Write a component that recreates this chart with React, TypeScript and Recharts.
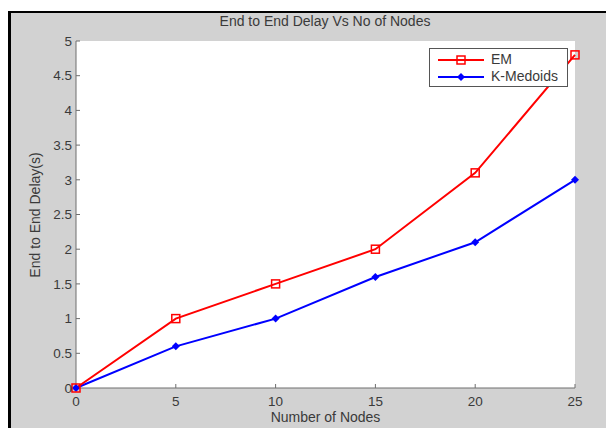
import { LineChart, Line, XAxis, YAxis, CartesianGrid } from 'recharts';

const nodes = [0, 5, 10, 15, 20, 25];
const emDelay = [0, 1.0, 1.5, 2.0, 3.1, 4.8];
const kMedoidsDelay = [0, 0.6, 1.0, 1.6, 2.1, 3.0];
const xTicks = [0, 5, 10, 15, 20, 25];
const yTicks = [0, 0.5, 1, 1.5, 2, 2.5, 3, 3.5, 4, 4.5, 5];

const chartTitle = 'End to End Delay Vs No of Nodes';
const xTitle = 'Number of Nodes';
const yTitle = 'End to End Delay(s)';

const FONT = '"Liberation Sans", Arial, sans-serif';
const TEXT = '#3a3a3a';
const AXIS = '#6e6e6e';

const data = nodes.map((n, i) => ({ n, em: emDelay[i], km: kMedoidsDelay[i] }));

function SquareDot(props: any) {
  const { cx, cy } = props;
  if (cx == null || cy == null) return null;
  return <rect x={cx - 4} y={cy - 4} width={8} height={8} fill="none" stroke="#ff0000" strokeWidth={1.5} />;
}

function DiamondDot(props: any) {
  const { cx, cy } = props;
  if (cx == null || cy == null) return null;
  return <polygon points={`${cx},${cy - 4} ${cx + 4},${cy} ${cx},${cy + 4} ${cx - 4},${cy}`} fill="#0000ff" />;
}

export default function App() {
  const tick = { fontSize: 13.5, fill: TEXT, fontFamily: FONT };
  return (
    <div style={{ position: 'fixed', left: 0, top: 0, width: 606, height: 428, background: '#fff', overflow: 'hidden' }}>
      {/* figure background with the dark frame on top/left */}
      <div
        style={{
          position: 'absolute', left: 8, top: 11, width: 598, height: 417,
          background: '#d2d2d2', borderTop: '2px solid #000', borderLeft: '3px solid #000',
        }}
      />
      <div style={{ position: 'absolute', left: 0, top: 0 }}>
        <LineChart width={606} height={428} data={data} margin={{ top: 41, right: 31, left: 0, bottom: 10 }}>
          <CartesianGrid fill="#ffffff" horizontal={false} vertical={false} />
          <XAxis
            dataKey="n" type="number" domain={[0, 25]} ticks={xTicks} height={30}
            axisLine={{ stroke: AXIS }} tickLine={{ stroke: AXIS }} tickSize={-4} tickMargin={12}
            tick={tick} interval={0}
          />
          <XAxis xAxisId="top" dataKey="n" type="number" domain={[0, 25]} orientation="top" height={0}
            tick={false} tickLine={false} axisLine={{ stroke: '#9a9a9a' }} />
          <YAxis
            type="number" domain={[0, 5]} ticks={yTicks} width={76}
            axisLine={{ stroke: AXIS }} tickLine={{ stroke: AXIS }} tickSize={-4} tickMargin={8}
            tick={tick} interval={0}
          />
          <YAxis yAxisId="right" type="number" domain={[0, 5]} orientation="right" width={0}
            tick={false} tickLine={false} axisLine={{ stroke: '#9a9a9a' }} />
          <Line dataKey="km" stroke="#0000ff" strokeWidth={2} dot={<DiamondDot />} isAnimationActive={false} />
          <Line dataKey="em" stroke="#ff0000" strokeWidth={2} dot={<SquareDot />} isAnimationActive={false} />
        </LineChart>
      </div>
      <div style={{ position: 'absolute', left: 0, width: 650, top: 13, textAlign: 'center', font: `14px ${FONT}`, color: TEXT }}>
        {chartTitle}
      </div>
      <div style={{ position: 'absolute', left: 76, width: 499, top: 409, textAlign: 'center', font: `14px ${FONT}`, color: TEXT }}>
        {xTitle}
      </div>
      <div
        style={{
          position: 'absolute', left: 35, top: 215, width: 200, marginLeft: -100, marginTop: -9, textAlign: 'center',
          transform: 'rotate(-90deg)', font: `14px ${FONT}`, color: TEXT, lineHeight: '18px',
        }}
      >
        {yTitle}
      </div>
      {/* legend */}
      <div
        style={{
          position: 'absolute', left: 429, top: 48, width: 137, height: 37, background: '#fff',
          border: '1px solid #555', font: `14px ${FONT}`, color: TEXT,
        }}
      >
        {[
          { label: 'EM', color: '#ff0000', marker: 'square' },
          { label: 'K-Medoids', color: '#0000ff', marker: 'diamond' },
        ].map((item, i) => (
          <div key={item.label} style={{ position: 'absolute', left: 8, top: 2 + i * 17, height: 17, display: 'flex', alignItems: 'center' }}>
            <svg width={46} height={12}>
              <line x1={0} y1={6} x2={46} y2={6} stroke={item.color} strokeWidth={2} />
              {item.marker === 'square' ? (
                <rect x={19} y={2} width={8} height={8} fill="none" stroke={item.color} strokeWidth={1.5} />
              ) : (
                <polygon points="23,2 27,6 23,10 19,6" fill={item.color} />
              )}
            </svg>
            <span style={{ marginLeft: 7, lineHeight: '17px' }}>{item.label}</span>
          </div>
        ))}
      </div>
    </div>
  );
}
